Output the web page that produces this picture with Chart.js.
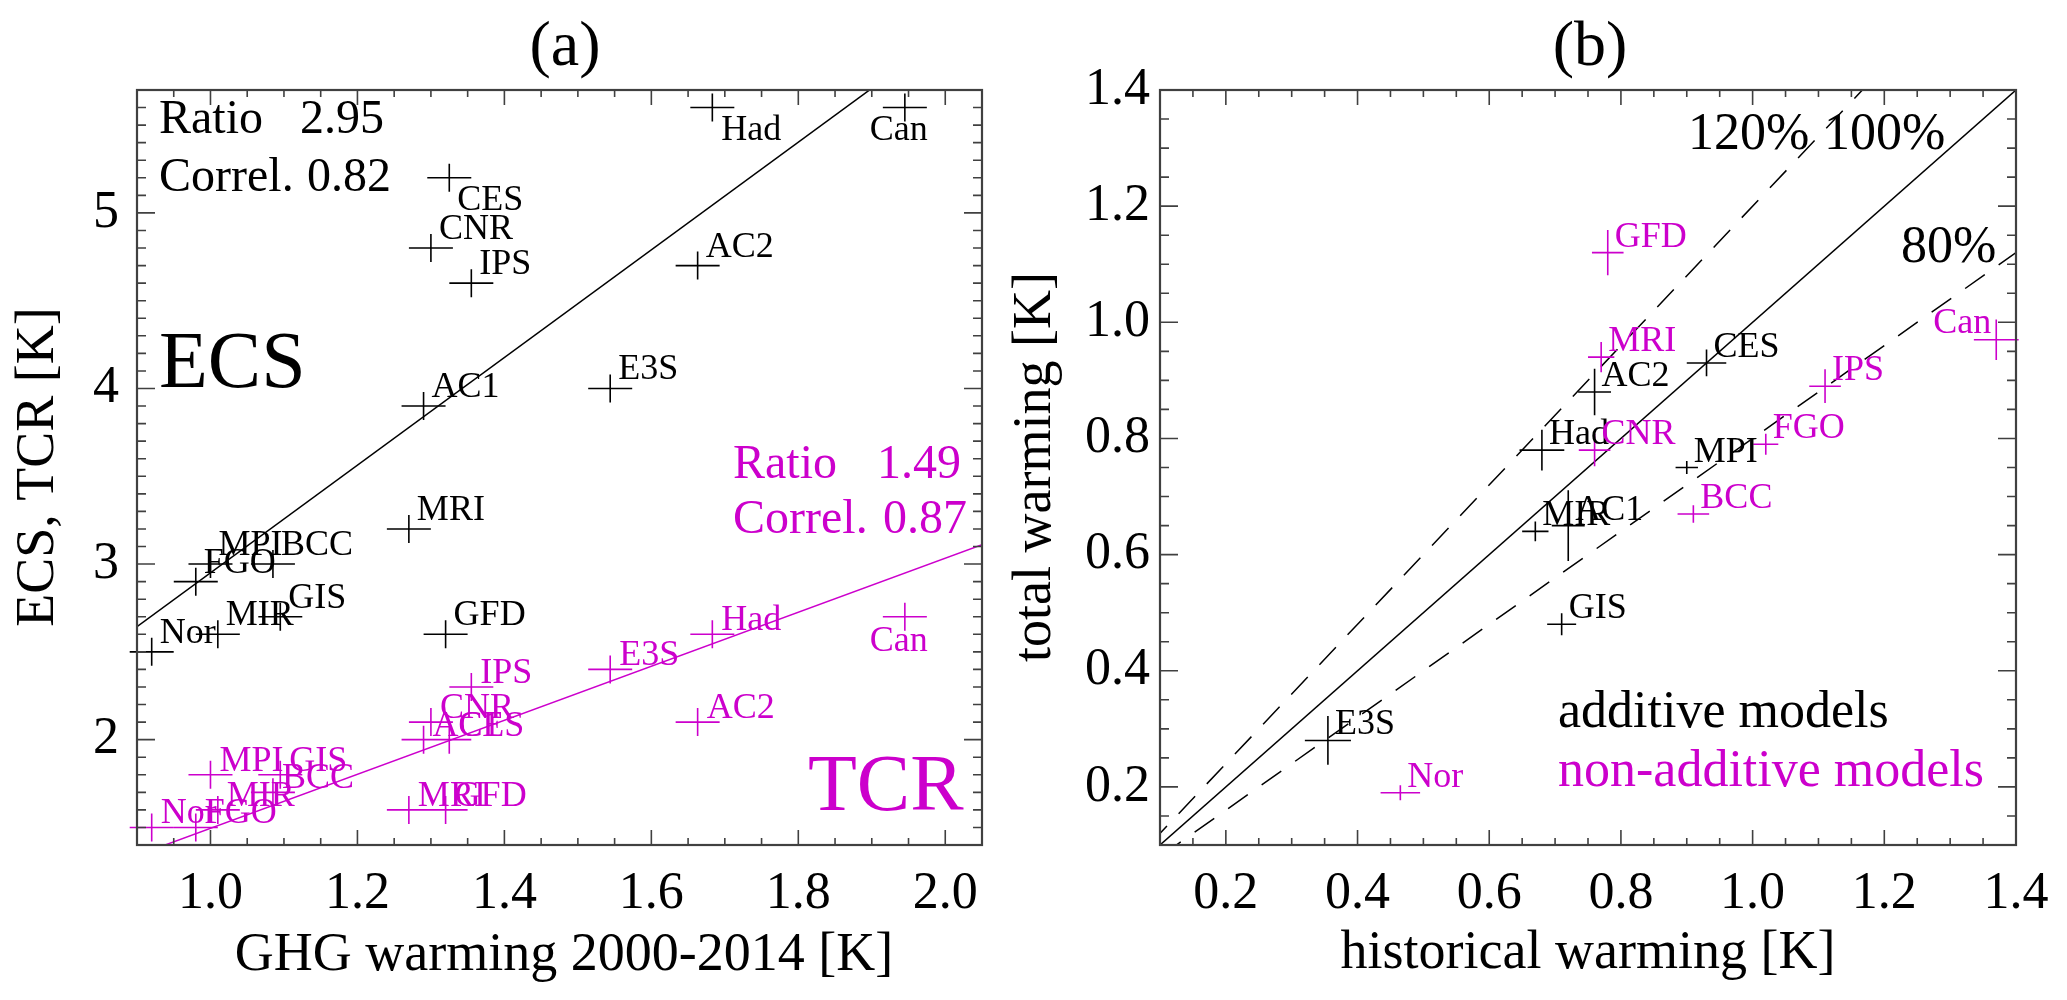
<!DOCTYPE html>
<html>
<head>
<meta charset="utf-8">
<title>GHG warming, ECS/TCR and total warming</title>
<script src="https://cdn.jsdelivr.net/npm/chart.js@4.4.0/dist/chart.umd.min.js"></script>
<style>
  html, body { margin: 0; padding: 0; background: #fff; }
  #wrap { position: relative; width: 2067px; height: 1000px; }
  #chartA { position: absolute; left: 0; top: 0; width: 1000px; height: 1000px; }
  #chartB { position: absolute; left: 1000px; top: 0; width: 1067px; height: 1000px; }
</style>
</head>
<body>
<div id="wrap">
  <canvas id="chartA" width="1000" height="1000"></canvas>
  <canvas id="chartB" width="1067" height="1000"></canvas>
</div>
<script>
// ---- panel (a): GHG warming 2000-2014 vs ECS / TCR ----
const models     = ['AC1', 'AC2', 'BCC', 'Can', 'CES', 'CNR', 'E3S', 'FGO', 'GFD', 'GIS', 'Had', 'IPS', 'MIR', 'MPI', 'MRI', 'Nor'];
const ghgWarming = [1.29, 1.663, 1.085, 1.945, 1.325, 1.30, 1.544, 0.98, 1.32, 1.095, 1.683, 1.355, 1.01, 1.00, 1.27, 0.92];
const ecs        = [3.9, 4.7, 3.0, 5.6, 5.2, 4.8, 4.0, 2.9, 2.6, 2.7, 5.6, 4.6, 2.6, 3.0, 3.2, 2.5];
const tcr        = [2.0, 2.1, 1.7, 2.7, 2.0, 2.1, 2.4, 1.5, 1.6, 1.8, 2.6, 2.3, 1.6, 1.8, 1.6, 1.5];

// regression lines: [intercept, slope]
const ecsFit = [-0.116, 3.066];
const tcrFit = [-0.044, 1.539];

// ---- panel (b): historical vs total warming ----
const addModels   = ['AC1', 'AC2', 'CES', 'E3S', 'GIS', 'Had', 'MIR', 'MPI'];
const addHist     = [0.72, 0.76, 0.93, 0.355, 0.71, 0.68, 0.67, 0.90];
const addTotal    = [0.65, 0.88, 0.93, 0.28, 0.48, 0.78, 0.64, 0.75];
const addHistErr  = [0.025, 0.025, 0.030, 0.035, 0.022, 0.034, 0.020, 0.017];
const addTotalErr = [0.061, 0.040, 0.023, 0.042, 0.019, 0.035, 0.017, 0.011];

const nonModels   = ['BCC', 'Can', 'CNR', 'FGO', 'GFD', 'IPS', 'MRI', 'Nor'];
const nonHist     = [0.91, 1.37, 0.76, 1.02, 0.78, 1.11, 0.77, 0.465];
const nonTotal    = [0.67, 0.97, 0.78, 0.79, 1.12, 0.89, 0.94, 0.19];
const nonHistErr  = [0.024, 0.034, 0.024, 0.019, 0.024, 0.024, 0.020, 0.030];
const nonTotalErr = [0.015, 0.035, 0.028, 0.018, 0.039, 0.029, 0.026, 0.013];

// reference lines total = k * historical
const ratioLines = [1.2, 1.0, 0.8];

const MAGENTA = '#CC00CC';
const FONT = '"Liberation Serif", "Times New Roman", serif';
Chart.defaults.font.family = FONT;
Chart.defaults.color = '#000';

function toPoints(xs, ys) {
    return xs.map((x, i) => ({ x: x, y: ys[i] }));
}

function fitPoints(fit, xmin, xmax) {
    return [xmin, xmax].map(x => ({ x: x, y: fit[0] + fit[1] * x }));
}

// label only every "step", the other ticks stay as minor ticks
function labelEvery(step, digits) {
    return v => {
        const k = v / step;
        return Math.abs(k - Math.round(k)) < 1e-6 ? Number(v).toFixed(digits) : '';
    };
}

// inward ticks on all four sides, like the original plot
const frameTicks = {
    id: 'frameTicks',
    afterDraw(chart) {
        const { ctx, chartArea: ca } = chart;
        const xs = chart.scales.x, ys = chart.scales.y;
        ctx.save();
        ctx.strokeStyle = '#404040';
        ctx.lineWidth = 1.6;
        ctx.beginPath();
        xs.ticks.forEach(t => {
            const px = xs.getPixelForValue(t.value);
            const len = t.label !== '' ? 15 : 7;
            ctx.moveTo(px, ca.bottom); ctx.lineTo(px, ca.bottom - len);
            ctx.moveTo(px, ca.top); ctx.lineTo(px, ca.top + len);
        });
        ys.ticks.forEach(t => {
            const py = ys.getPixelForValue(t.value);
            const len = t.label !== '' ? 18 : 9;
            ctx.moveTo(ca.left, py); ctx.lineTo(ca.left + len, py);
            ctx.moveTo(ca.right, py); ctx.lineTo(ca.right - len, py);
        });
        ctx.stroke();
        ctx.lineWidth = 2.2;
        ctx.strokeRect(ca.left, ca.top, ca.width, ca.height);
        ctx.restore();
    }
};

// plus-shaped markers: fixed pixel size, or error bars in data units
const crossMarks = {
    id: 'crossMarks',
    afterDatasetsDraw(chart) {
        const ctx = chart.ctx;
        const xs = chart.scales.x, ys = chart.scales.y;
        ctx.save();
        chart.data.datasets.forEach((ds, i) => {
            if (!ds.cross) return;
            const meta = chart.getDatasetMeta(i);
            ctx.strokeStyle = ds.borderColor;
            ctx.lineWidth = ds.cross.width;
            ctx.beginPath();
            meta.data.forEach((pt, j) => {
                const v = ds.data[j];
                let x1, x2, y1, y2;
                if (ds.xErr) {
                    x1 = xs.getPixelForValue(v.x - ds.xErr[j]);
                    x2 = xs.getPixelForValue(v.x + ds.xErr[j]);
                    y1 = ys.getPixelForValue(v.y - ds.yErr[j]);
                    y2 = ys.getPixelForValue(v.y + ds.yErr[j]);
                } else {
                    x1 = pt.x - ds.cross.hw; x2 = pt.x + ds.cross.hw;
                    y1 = pt.y - ds.cross.hh; y2 = pt.y + ds.cross.hh;
                }
                ctx.moveTo(x1, pt.y); ctx.lineTo(x2, pt.y);
                ctx.moveTo(pt.x, y1); ctx.lineTo(pt.x, y2);
            });
            ctx.stroke();
        });
        ctx.restore();
    }
};

// model names next to the markers
const modelLabels = {
    id: 'modelLabels',
    afterDatasetsDraw(chart) {
        const ctx = chart.ctx;
        ctx.save();
        ctx.font = '36px ' + FONT;
        ctx.textBaseline = 'alphabetic';
        chart.data.datasets.forEach((ds, i) => {
            if (!ds.names) return;
            const meta = chart.getDatasetMeta(i);
            ctx.fillStyle = ds.borderColor;
            meta.data.forEach((pt, j) => {
                const name = ds.names[j];
                const off = (ds.labelSpecial && ds.labelSpecial[name]) || ds.labelOffset;
                ctx.textAlign = off.align || 'left';
                ctx.fillText(name, pt.x + off.dx, pt.y + off.dy);
            });
        });
        ctx.restore();
    }
};

// free texts, placed relative to the plot area
function panelTexts(items) {
    return {
        id: 'panelTexts',
        afterDraw(chart) {
            const { ctx, chartArea: ca } = chart;
            items.forEach(t => {
                ctx.save();
                ctx.font = t.size + 'px ' + FONT;
                ctx.fillStyle = t.color || '#000';
                ctx.textAlign = t.align || 'left';
                ctx.textBaseline = 'alphabetic';
                ctx.translate(ca.left + t.dx, ca.top + t.dy);
                if (t.rot) ctx.rotate(t.rot);
                ctx.fillText(t.text, 0, 0);
                ctx.restore();
            });
        }
    };
}

function makeScales(xr, yr, xStep, yStep, xLab, yLab, leftWidth, yPad) {
    return {
        x: {
            type: 'linear', min: xr[0], max: xr[1],
            grid: { display: false, drawTicks: false },
            border: { display: false },
            ticks: { stepSize: xStep, autoSkip: false, maxRotation: 0, padding: 18,
                     font: { size: 52 }, color: '#000', callback: xLab },
            afterFit: s => { s.height = 155; }
        },
        y: {
            type: 'linear', min: yr[0], max: yr[1],
            grid: { display: false, drawTicks: false },
            border: { display: false },
            ticks: { stepSize: yStep, autoSkip: false, padding: yPad,
                     font: { size: 52 }, color: '#000', callback: yLab },
            afterFit: s => { s.width = leftWidth; }
        }
    };
}

const baseOptions = {
    responsive: false,
    animation: false,
    devicePixelRatio: 1,
    plugins: { legend: { display: false }, tooltip: { enabled: false } }
};

// ---------- panel (a) ----------
const textsA = [
    { text: '(a)', dx: 428, dy: -25, size: 64, align: 'center' },
    { text: 'Ratio', dx: 22, dy: 43, size: 48 },
    { text: '2.95', dx: 163, dy: 43, size: 48 },
    { text: 'Correl.', dx: 22, dy: 101, size: 48 },
    { text: '0.82', dx: 170, dy: 101, size: 48 },
    { text: 'ECS', dx: 22, dy: 297, size: 80 },
    { text: 'Ratio', dx: 596, dy: 388, size: 48, color: MAGENTA },
    { text: '1.49', dx: 740, dy: 388, size: 48, color: MAGENTA },
    { text: 'Correl.', dx: 596, dy: 443, size: 48, color: MAGENTA },
    { text: '0.87', dx: 746, dy: 443, size: 48, color: MAGENTA },
    { text: 'TCR', dx: 671, dy: 720, size: 80, color: MAGENTA },
    { text: 'GHG warming 2000-2014 [K]', dx: 427, dy: 880, size: 54, align: 'center' },
    { text: 'ECS, TCR [K]', dx: -84, dy: 377, size: 54, align: 'center', rot: -Math.PI / 2 }
];

new Chart(document.getElementById('chartA'), {
    type: 'scatter',
    data: {
        datasets: [
            { label: 'ECS fit', type: 'line', data: fitPoints(ecsFit, 0.9, 2.05), showLine: true,
              borderColor: '#000', borderWidth: 1.5, pointRadius: 0, fill: false },
            { label: 'TCR fit', type: 'line', data: fitPoints(tcrFit, 0.9, 2.05), showLine: true,
              borderColor: MAGENTA, borderWidth: 1.5, pointRadius: 0, fill: false },
            { label: 'ECS', data: toPoints(ghgWarming, ecs), names: models,
              borderColor: '#000', pointRadius: 0, cross: { hw: 22, hh: 14, width: 1.6 },
              labelOffset: { dx: 8, dy: -9 },
              labelSpecial: { CES: { dx: 8, dy: 32 }, Had: { dx: 9, dy: 32 }, Can: { dx: -35, dy: 32 } } },
            { label: 'TCR', data: toPoints(ghgWarming, tcr), names: models,
              borderColor: MAGENTA, pointRadius: 0, cross: { hw: 22, hh: 14, width: 1.6 },
              labelOffset: { dx: 9, dy: -4 },
              labelSpecial: { Can: { dx: -35, dy: 34 } } }
        ]
    },
    options: Object.assign({}, baseOptions, {
        layout: { padding: { left: 0, right: 8, top: 90, bottom: 0 } },
        scales: makeScales([0.9, 2.05], [1.4, 5.7], 0.05, 0.1,
                           labelEvery(0.2, 1), labelEvery(1, 0), 137, 18)
    }),
    plugins: [frameTicks, crossMarks, modelLabels, panelTexts(textsA)]
});

// ---------- panel (b) ----------
const textsB = [
    { text: '(b)', dx: 430, dy: -25, size: 64, align: 'center' },
    { text: '120%', dx: 528, dy: 59, size: 52 },
    { text: '100%', dx: 664, dy: 59, size: 52 },
    { text: '80%', dx: 741, dy: 172, size: 52 },
    { text: 'additive models', dx: 398, dy: 637, size: 52 },
    { text: 'non-additive models', dx: 398, dy: 696, size: 52, color: MAGENTA },
    { text: 'historical warming [K]', dx: 428, dy: 878, size: 54, align: 'center' },
    { text: 'total warming [K]', dx: -110, dy: 377, size: 54, align: 'center', rot: -Math.PI / 2 }
];

const refLineSets = ratioLines.map(k => ({
    label: Math.round(k * 100) + '%', type: 'line', showLine: true,
    data: [0, 1.4].map(x => ({ x: x, y: k * x })),
    borderColor: '#000', borderWidth: 1.5, pointRadius: 0, fill: false,
    borderDash: k === 1 ? [] : [24, 17]
}));

new Chart(document.getElementById('chartB'), {
    type: 'scatter',
    data: {
        datasets: refLineSets.concat([
            { label: 'additive', data: toPoints(addHist, addTotal), names: addModels,
              xErr: addHistErr, yErr: addTotalErr,
              borderColor: '#000', pointRadius: 0, cross: { width: 1.6 },
              labelOffset: { dx: 7, dy: -6 } },
            { label: 'non-additive', data: toPoints(nonHist, nonTotal), names: nonModels,
              xErr: nonHistErr, yErr: nonTotalErr,
              borderColor: MAGENTA, pointRadius: 0, cross: { width: 1.6 },
              labelOffset: { dx: 7, dy: -6 },
              labelSpecial: { Can: { dx: -5, dy: -7, align: 'right' } } }
        ])
    },
    options: Object.assign({}, baseOptions, {
        layout: { padding: { left: 0, right: 51, top: 90, bottom: 0 } },
        scales: makeScales([0.1, 1.4], [0.1, 1.4], 0.05, 0.05,
                           labelEvery(0.2, 1), labelEvery(0.2, 1), 160, 10)
    }),
    plugins: [frameTicks, crossMarks, modelLabels, panelTexts(textsB)]
});
</script>
</body>
</html>
